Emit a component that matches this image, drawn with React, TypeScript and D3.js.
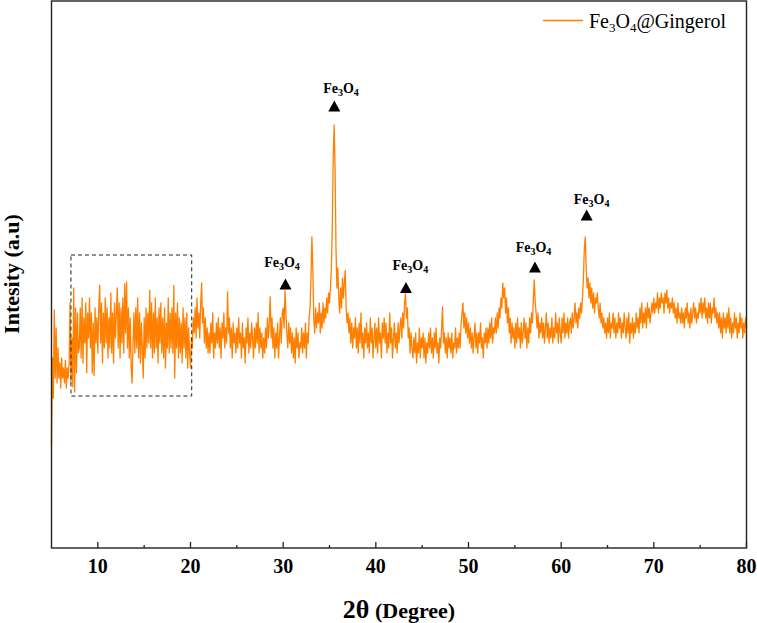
import React from "react";
import * as d3 from "d3";

// 2θ sampling of the pattern (degrees)
const angleStart = 5;
const angleStep = 0.1;

// Intensity (a.u.), one row per degree (x.0 … x.9)
const intensity: number[] = [
  205, 380, 300, 476, 340, 440, 330, 400, 340, 370, // 5
  320, 380, 340, 360, 330, 375, 320, 360, 340, 370, // 6
  490, 330, 420, 322, 520, 312, 480, 350, 470, 390, // 7
  400, 480, 380, 500, 370, 460, 410, 490, 350, 470, // 8
  420, 500, 400, 470, 350, 450, 345, 480, 410, 460, // 9
  390, 480, 525, 410, 490, 370, 470, 400, 500, 410, // 10
  480, 380, 460, 400, 510, 390, 470, 370, 490, 420, // 11
  470, 520, 400, 490, 380, 480, 410, 500, 390, 528, // 12
  430, 532, 400, 480, 380, 460, 360, 330, 410, 470, // 13
  390, 480, 400, 500, 380, 470, 370, 450, 400, 340, // 14
  460, 380, 480, 400, 470, 410, 515, 400, 490, 380, // 15
  470, 390, 500, 400, 460, 370, 480, 410, 490, 390, // 16
  460, 380, 480, 360, 450, 400, 500, 390, 470, 400, // 17
  480, 390, 525, 340, 470, 400, 490, 380, 460, 390, // 18
  450, 370, 480, 400, 460, 380, 470, 360, 440, 390, // 19
  360, 420, 400, 460, 430, 480, 420, 500, 440, 470, // 20
  420, 490, 530, 450, 480, 410, 460, 400, 440, 390, // 21
  430, 390, 450, 410, 470, 380, 430, 400, 450, 410, // 22
  460, 400, 440, 380, 450, 420, 470, 400, 440, 410, // 23
  512, 430, 460, 400, 440, 380, 450, 410, 430, 390, // 24
  440, 400, 460, 410, 430, 380, 450, 400, 420, 370, // 25
  440, 410, 460, 390, 430, 400, 450, 420, 380, 440, // 26
  400, 450, 410, 470, 390, 440, 400, 430, 380, 420, // 27
  390, 440, 400, 460, 420, 450, 502, 420, 460, 400, // 28
  440, 380, 430, 400, 450, 380, 420, 460, 410, 470, // 29
  480, 440, 515, 470, 430, 400, 450, 410, 440, 390, // 30
  430, 380, 420, 370, 440, 400, 430, 380, 410, 400, // 31
  440, 390, 430, 400, 450, 380, 430, 410, 460, 480, // 32
  540, 622, 560, 460, 430, 480, 440, 470, 450, 490, // 33
  430, 470, 440, 490, 450, 480, 460, 500, 470, 510, // 34
  490, 520, 560, 640, 780, 846, 760, 600, 520, 560, // 35
  500, 470, 520, 480, 540, 500, 530, 555, 480, 450, // 36
  470, 430, 460, 410, 450, 400, 440, 420, 460, 400, // 37
  440, 390, 450, 410, 470, 400, 430, 380, 440, 410, // 38
  450, 400, 430, 390, 460, 410, 440, 380, 420, 450, // 39
  400, 440, 390, 460, 410, 430, 380, 450, 420, 460, // 40
  410, 450, 390, 430, 400, 470, 410, 440, 380, 420, // 41
  450, 400, 430, 390, 450, 410, 440, 460, 420, 470, // 42
  440, 490, 510, 460, 480, 420, 440, 390, 430, 400, // 43
  380, 420, 390, 430, 370, 410, 390, 440, 380, 420, // 44
  400, 430, 380, 420, 370, 410, 390, 430, 400, 440, // 45
  390, 420, 380, 430, 400, 440, 390, 410, 370, 420, // 46
  400, 440, 482, 410, 430, 390, 420, 380, 430, 400, // 47
  420, 390, 430, 380, 410, 400, 440, 390, 420, 400, // 48
  430, 400, 450, 470, 490, 440, 470, 430, 460, 420, // 49
  450, 410, 440, 400, 430, 390, 420, 450, 400, 430, // 50
  390, 430, 410, 450, 400, 420, 380, 430, 410, 440, // 51
  400, 440, 410, 450, 420, 460, 410, 440, 430, 460, // 52
  430, 470, 440, 480, 460, 500, 480, 530, 500, 520, // 53
  470, 500, 450, 480, 430, 460, 410, 450, 420, 440, // 54
  400, 450, 410, 460, 420, 440, 400, 450, 410, 430, // 55
  460, 420, 450, 400, 440, 410, 460, 430, 470, 450, // 56
  500, 536, 490, 470, 440, 470, 420, 450, 430, 460, // 57
  420, 450, 410, 440, 470, 420, 450, 410, 440, 420, // 58
  460, 410, 440, 420, 470, 430, 450, 410, 460, 430, // 59
  410, 460, 430, 470, 420, 450, 430, 460, 420, 450, // 60
  460, 430, 470, 440, 460, 490, 450, 470, 440, 480, // 61
  460, 490, 470, 500, 540, 600, 622, 560, 520, 540, // 62
  500, 530, 490, 520, 480, 510, 470, 500, 490, 510, // 63
  480, 460, 490, 450, 470, 440, 460, 430, 450, 420, // 64
  460, 430, 470, 420, 450, 440, 470, 430, 460, 420, // 65
  450, 430, 470, 440, 460, 420, 450, 430, 470, 440, // 66
  420, 460, 430, 470, 410, 450, 430, 460, 420, 450, // 67
  430, 470, 440, 460, 430, 480, 450, 490, 440, 470, // 68
  450, 480, 440, 490, 460, 480, 450, 470, 490, 470, // 69
  500, 470, 490, 480, 510, 470, 500, 480, 510, 490, // 70
  500, 470, 510, 490, 516, 480, 500, 470, 490, 480, // 71
  500, 470, 490, 460, 480, 450, 490, 460, 470, 450, // 72
  480, 450, 470, 440, 480, 460, 490, 450, 470, 440, // 73
  480, 450, 470, 490, 460, 480, 450, 470, 460, 490, // 74
  470, 500, 460, 490, 470, 500, 460, 480, 450, 490, // 75
  460, 490, 450, 480, 470, 500, 460, 480, 450, 470, // 76
  440, 470, 430, 460, 420, 470, 440, 460, 430, 470, // 77
  440, 480, 430, 460, 420, 450, 430, 470, 440, 460, // 78
  420, 450, 430, 470, 440, 460, 420, 450, 430, 460, // 79
  440, // 80
];

const xDomain = [5, 80];
const yDomain = [0, 1094];
const xTicks = [10, 20, 30, 40, 50, 60, 70, 80];
const xMinorTicks = [15, 25, 35, 45, 55, 65, 75];

const seriesName = ["Fe", "3", "O", "4", "@Gingerol"];
const peakLabel = ["Fe", "3", "O", "4"];

// Fe3O4 reflections: marker positions and label anchors
const peakAngles = [30.25, 35.52, 43.25, 57.17, 62.75];
const peakMarkerLevels = [528, 884, 521, 562, 666];
const labelAngles = [29.87, 36.24, 43.72, 57.01, 63.29];
const labelLevels = [563, 911, 556, 593, 689];

// dashed highlighted region (2θ range, intensity range)
const regionAngles = [7.1, 20.13];
const regionLevels = [304, 586];

const W = 757;
const H = 623;
const left = 51.5;
const right = 746.5;
const top = 1;
const bottom = 548;
const ORANGE = "#ff8000";

export default function App() {
  const x = d3.scaleLinear().domain(xDomain).range([left, right]);
  const y = d3.scaleLinear().domain(yDomain).range([bottom, top]);

  const pts: [number, number][] = intensity.map((v, i) => [
    angleStart + i * angleStep,
    v,
  ]);
  const line = d3
    .line<[number, number]>()
    .x((d) => x(d[0]))
    .y((d) => y(d[1]));

  const serif = "'Liberation Serif', 'Times New Roman', serif";

  return (
    <svg
      width={W}
      height={H}
      style={{ position: "absolute", left: 0, top: 0, background: "#fff" }}
      fontFamily={serif}
    >
      <rect x={0} y={0} width={W} height={H} fill="#fff" />
      <path
        d={line(pts) || ""}
        fill="none"
        stroke={ORANGE}
        strokeWidth={1.3}
        strokeLinejoin="round"
      />
      {/* dashed box */}
      <rect
        x={x(regionAngles[0])}
        y={y(regionLevels[1])}
        width={x(regionAngles[1]) - x(regionAngles[0])}
        height={y(regionLevels[0]) - y(regionLevels[1])}
        fill="none"
        stroke="#222"
        strokeWidth={1}
        strokeDasharray="4,3"
      />
      {/* frame */}
      <rect
        x={left}
        y={top}
        width={right - left}
        height={bottom - top}
        fill="none"
        stroke="#222"
        strokeWidth={1.4}
      />
      {xTicks.map((t) => (
        <g key={"t" + t}>
          <line
            x1={x(t)}
            x2={x(t)}
            y1={bottom}
            y2={bottom - 6}
            stroke="#222"
            strokeWidth={1.3}
          />
          <text
            x={x(t)}
            y={573}
            textAnchor="middle"
            fontWeight="bold"
            fontSize={20}
          >
            {t}
          </text>
        </g>
      ))}
      {xMinorTicks.map((t) => (
        <line
          key={"m" + t}
          x1={x(t)}
          x2={x(t)}
          y1={bottom}
          y2={bottom - 3}
          stroke="#222"
          strokeWidth={1.3}
        />
      ))}
      {/* peak markers */}
      {peakAngles.map((a, i) => {
        const cx = x(a);
        const cy = y(peakMarkerLevels[i]);
        return (
          <path
            key={"p" + i}
            d={`M${cx - 6},${cy + 5.5}L${cx + 6},${cy + 5.5}L${cx},${cy - 5.5}Z`}
            fill="#000"
          />
        );
      })}
      {labelAngles.map((a, i) => (
        <text
          key={"l" + i}
          x={x(a)}
          y={y(labelLevels[i])}
          textAnchor="middle"
          fontWeight="bold"
          fontSize={14}
        >
          <tspan>{peakLabel[0]}</tspan>
          <tspan dy={3} fontSize={10}>
            {peakLabel[1]}
          </tspan>
          <tspan dy={-3}>{peakLabel[2]}</tspan>
          <tspan dy={3} fontSize={10}>
            {peakLabel[3]}
          </tspan>
        </text>
      ))}
      {/* legend */}
      <line x1={543} x2={583} y1={20.5} y2={20.5} stroke={ORANGE} strokeWidth={1.5} />
      <text x={589} y={27.5} fontSize={20}>
        <tspan>{seriesName[0]}</tspan>
        <tspan dy={4} fontSize={13}>
          {seriesName[1]}
        </tspan>
        <tspan dy={-4}>{seriesName[2]}</tspan>
        <tspan dy={4} fontSize={13}>
          {seriesName[3]}
        </tspan>
        <tspan dy={-4}>{seriesName[4]}</tspan>
      </text>
      {/* axis titles */}
      <text x={(left + right) / 2} y={618} textAnchor="middle" fontWeight="bold">
        <tspan fontSize={26}>2θ</tspan>
        <tspan fontSize={22}> (Degree)</tspan>
      </text>
      <text
        transform={`translate(19, 274) rotate(-90)`}
        textAnchor="middle"
        fontWeight="bold"
        fontSize={22}
      >
        Intesity (a.u)
      </text>
    </svg>
  );
}
